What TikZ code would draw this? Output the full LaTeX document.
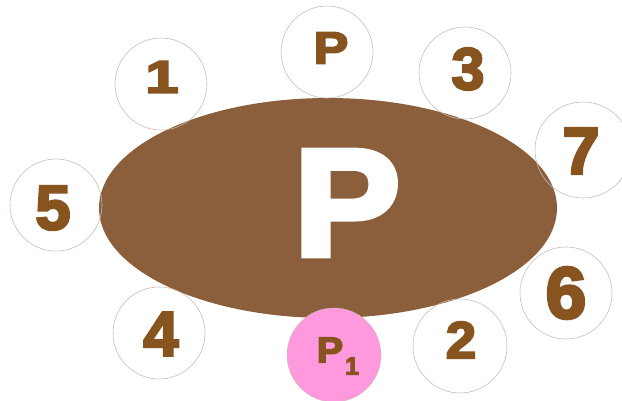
\documentclass[tikz,border=0pt]{standalone}
\usepackage{fontspec}
\newfontfamily\heavy[FakeBold=4]{Liberation Sans Bold}
\definecolor{ellbrown}{HTML}{8B5E3C}
\definecolor{numbrown}{HTML}{87531F}
\definecolor{ringc}{HTML}{C9BDB2}
\definecolor{pinkc}{HTML}{FF99DD}
\begin{document}
\begin{tikzpicture}[x=1pt,y=-1pt,
  ring/.style={circle,draw=ringc,line width=0.6pt,minimum size=92pt,inner sep=0pt},
  num/.style={inner sep=0pt,text=numbrown,font=\heavy\fontsize{#1}{#1}\selectfont},
]
\useasboundingbox (0,0) rectangle (622,401);
\fill[ellbrown] (328,208) ellipse [x radius=229, y radius=110];
\node[inner sep=0pt,text=white,font=\heavy\fontsize{152}{152}\selectfont,xscale=1.05,transform shape] (bigp) at (347,203) {P};
\node[ring] (c1) at (161,84) {};
\node[ring] (cp) at (327,52) {};
\node[ring] (c3) at (465,73) {};
\node[ring,minimum size=96pt] (c7) at (583,150) {};
\node[ring] (c5) at (56,205) {};
\node[ring] (c4) at (159,333) {};
\node[ring,minimum size=94pt] (c2) at (460,346) {};
\node[ring] (c6) at (566,293) {};
\node[circle,fill=pinkc,draw=ringc,line width=0.4pt,minimum size=94pt,inner sep=0pt] (cp1) at (334,355) {};
\node[num=46,xscale=1.3,transform shape] (t1) at (162,77) {1};
\node[num=45,xscale=1.15,transform shape] (tp) at (331,48) {P};
\node[num=59] (t3) at (468,69) {3};
\node[num=66] (t7) at (581,151) {7};
\node[num=63] (t5) at (53,208) {5};
\node[num=63] (t4) at (161,334) {4};
\node[num=52,xscale=1.05,transform shape] (t2) at (461,340) {2};
\node[num=73] (t6) at (566,293) {6};
\node[num=36,xscale=1.1,transform shape] (tp1) at (330,350) {P};
\node[num=25] (tsub) at (352,366) {1};
\end{tikzpicture}
\end{document}
